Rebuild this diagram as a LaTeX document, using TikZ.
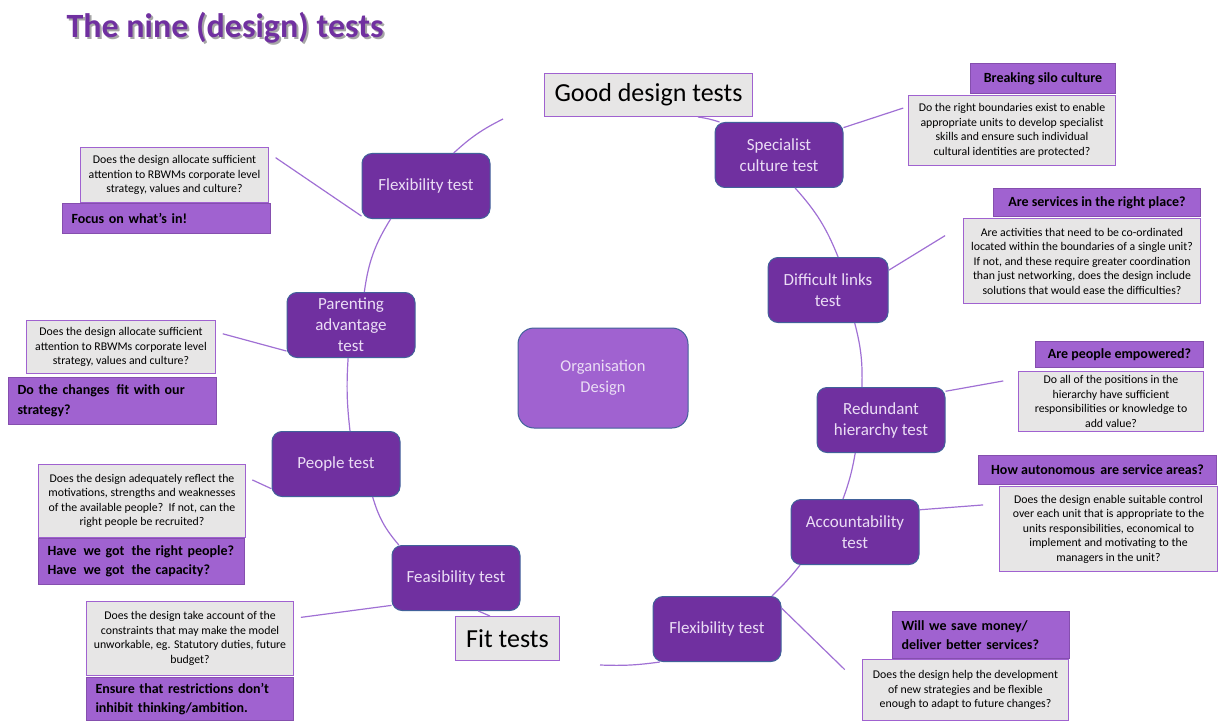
\documentclass[tikz,border=0pt]{standalone}
\usepackage{fontspec}
\setmainfont{Carlito}
\usepackage{xcolor}

\definecolor{testpurple}{HTML}{7030A0}
\definecolor{softpurple}{HTML}{A062D0}
\definecolor{edgeblue}{HTML}{41619A}
\definecolor{boxgray}{HTML}{E7E6E6}
\definecolor{linkpurple}{HTML}{A070D4}
\definecolor{paletext}{HTML}{EBDDF5}

\begin{document}
\begin{tikzpicture}[
  x=1pt, y={(0pt,-1pt)},
  testnode/.style={draw=edgeblue, line width=1pt, fill=testpurple, text=paletext, rounded corners=10pt,
    minimum width=128pt, minimum height=65pt, align=center, font=\fontsize{17}{21}\selectfont},
  hub/.style={testnode, fill=softpurple, rounded corners=16pt, minimum width=170pt, minimum height=100pt,
    font=\fontsize{16.5}{21}\selectfont},
  heading/.style={draw=softpurple, line width=1pt, fill=boxgray, anchor=north west, inner sep=0pt,
    font=\fontsize{26}{30}\selectfont},
  question/.style={draw=softpurple, line width=1pt, fill=boxgray, anchor=north west, align=center,
    inner sep=1pt, font=\fontsize{11.8}{14.5}\selectfont},
  prompt/.style={draw=testpurple!85, line width=1pt, fill=softpurple, anchor=north west, align=center,
    inner sep=1pt, font=\bfseries\fontsize{14}{19.5}\selectfont},
  promptleft/.style={prompt, align=left, inner xsep=9pt},
  linkline/.style={draw=linkpurple, line width=1.2pt}
]
\useasboundingbox (0,0) rectangle (1225,722);

\node[font=\bfseries\fontsize{34}{40}\selectfont, text=black!35, anchor=base west] (titleshadow) at (65,40) {The nine (design) tests};
\node[font=\bfseries\fontsize{34}{40}\selectfont, text=testpurple, anchor=base west] (title) at (63,38) {The nine (design) tests};

\node[heading, minimum width=208pt, minimum height=43pt] (good) at (544,73) {Good design tests};
\node[heading, minimum width=104pt, minimum height=44pt] (fit) at (455,616) {Fit tests};

\node[hub] (org) at (603,378) {Organisation\\Design};

\node[testnode] (flexA) at (426,186) {Flexibility test};
\node[testnode] (parent) at (351,325) {Parenting\\advantage\\test};
\node[testnode] (people) at (336,464) {People test};
\node[testnode] (feas) at (456,578) {Feasibility test};
\node[testnode] (spec) at (779,155) {Specialist\\culture test};
\node[testnode, minimum width=120pt] (links) at (828,290) {Difficult links\\test};
\node[testnode] (redund) at (881,420) {Redundant\\hierarchy test};
\node[testnode] (account) at (855,532) {Accountability\\test};
\node[testnode] (flexB) at (717,629) {Flexibility test};

\node[question, minimum width=188pt, minimum height=55pt] (qFlexA) at (80,147)
  {Does the design allocate sufficient\\attention to RBWMs corporate level\\strategy, values and culture?};
\node[promptleft, text width=190pt, minimum height=30pt] (pFlexA) at (62,203) {Focus on what's in!};

\node[question, minimum width=189pt, minimum height=53pt] (qParent) at (26,320)
  {Does the design allocate sufficient\\attention to RBWMs corporate level\\strategy, values and culture?};
\node[promptleft, text width=190pt, minimum height=47pt] (pParent) at (8,377) {Do the changes\, fit with our\\strategy?};

\node[question, minimum width=207pt, minimum height=73pt] (qPeople) at (38,464)
  {Does the design adequately reflect the\\motivations, strengths and weaknesses\\of the available people?\ \ If not, can the\\right people be recruited?};
\node[promptleft, text width=188pt, minimum height=46pt] (pPeople) at (38,538)
  {\mbox{Have\, we got\, the right people?}\\\mbox{Have\, we got\, the capacity?}};

\node[question, minimum width=207pt, minimum height=74pt] (qFeas) at (86,601)
  {Does the design take account of the\\constraints that may make the model\\unworkable, eg. Statutory duties, future\\budget?};
\node[promptleft, text width=189pt, minimum height=43pt] (pFeas) at (86,677)
  {Ensure that restrictions don’t\\inhibit thinking/ambition.};

\node[prompt, minimum width=145pt, minimum height=30pt] (pSpec) at (970,63) {Breaking silo culture};
\node[question, minimum width=207pt, minimum height=70pt] (qSpec) at (908,95)
  {Do the right boundaries exist to enable\\appropriate units to develop specialist\\skills and ensure such individual\\cultural identities are protected?};

\node[prompt, minimum width=207pt, minimum height=28pt] (pLinks) at (993,188) {Are services in the right place?};
\node[question, minimum width=237pt, minimum height=85pt] (qLinks) at (963,218)
  {Are activities that need to be co-ordinated\\located within the boundaries of a single unit?\\If not, and these require greater coordination\\than just networking, does the design include\\solutions that would ease the difficulties?};

\node[prompt, minimum width=168pt, minimum height=26pt] (pRedund) at (1035,341) {Are people empowered?};
\node[question, minimum width=185pt, minimum height=60pt] (qRedund) at (1018,371)
  {Do all of the positions in the\\hierarchy have sufficient\\responsibilities or knowledge to\\add value?};

\node[prompt, minimum width=238pt, minimum height=29pt] (pAccount) at (978,455) {How autonomous\, are service areas?};
\node[question, minimum width=218pt, minimum height=85pt] (qAccount) at (999,486)
  {Does the design enable suitable control\\over each unit that is appropriate to the\\units responsibilities, economical to\\implement and motivating to the\\managers in the unit?};

\node[promptleft, text width=159pt, minimum height=47pt] (pFlexB) at (892,611)
  {Will we save money/\\deliver better services?};
\node[question, minimum width=206pt, minimum height=61pt] (qFlexB) at (862,659)
  {Does the design help the development\\of new strategies and be flexible\\enough to adapt to future changes?};

\coordinate (goodtail) at (503,119);
\coordinate (fittail) at (600,665);

\draw[linkline] (flexA.50) to[bend left=8] (goodtail);
\draw[linkline] (good.-24) to[bend left=5] (spec.151);
\draw[linkline] (flexA.-137) to[bend right=12] (parent.68);
\draw[linkline] (parent.-95) to[bend right=5] (people.67);
\draw[linkline] (people.-42) to[bend right=12] (feas.150);
\draw[linkline] (feas.-56) -- (fit.128);
\draw[linkline] (spec.-64) to[bend left=10] (links.73);
\draw[linkline] (links.-51) to[bend left=8] (redund.120);
\draw[linkline] (redund.-128) to[bend left=5] (account.110);
\draw[linkline] (account.-149) to[bend left=4] (flexB.31);
\draw[linkline] (flexB.-150) to[bend left=5] (fittail);

\draw[linkline, shorten >=8pt] (flexA.-155) -- (qFlexA.13);
\draw[linkline, shorten >=7pt] (parent.-158) -- (qParent.9);
\draw[linkline, shorten >=7pt] (people.-159) -- (qPeople.13);
\draw[linkline, shorten >=7pt] (feas.-157) -- (qFeas.11);
\draw[linkline, shorten >=5pt] (spec.23) -- (qSpec.167);
\draw[linkline, shorten >=21pt] (links.18) -- (qLinks.163);
\draw[linkline, shorten >=15pt] (redund.24) -- (qRedund.166);
\draw[linkline, shorten >=16pt] (account.19) -- (qAccount.167);
\draw[linkline, shorten >=24pt] (flexB.18) -- (qFlexB.178);

\end{tikzpicture}
\end{document}
